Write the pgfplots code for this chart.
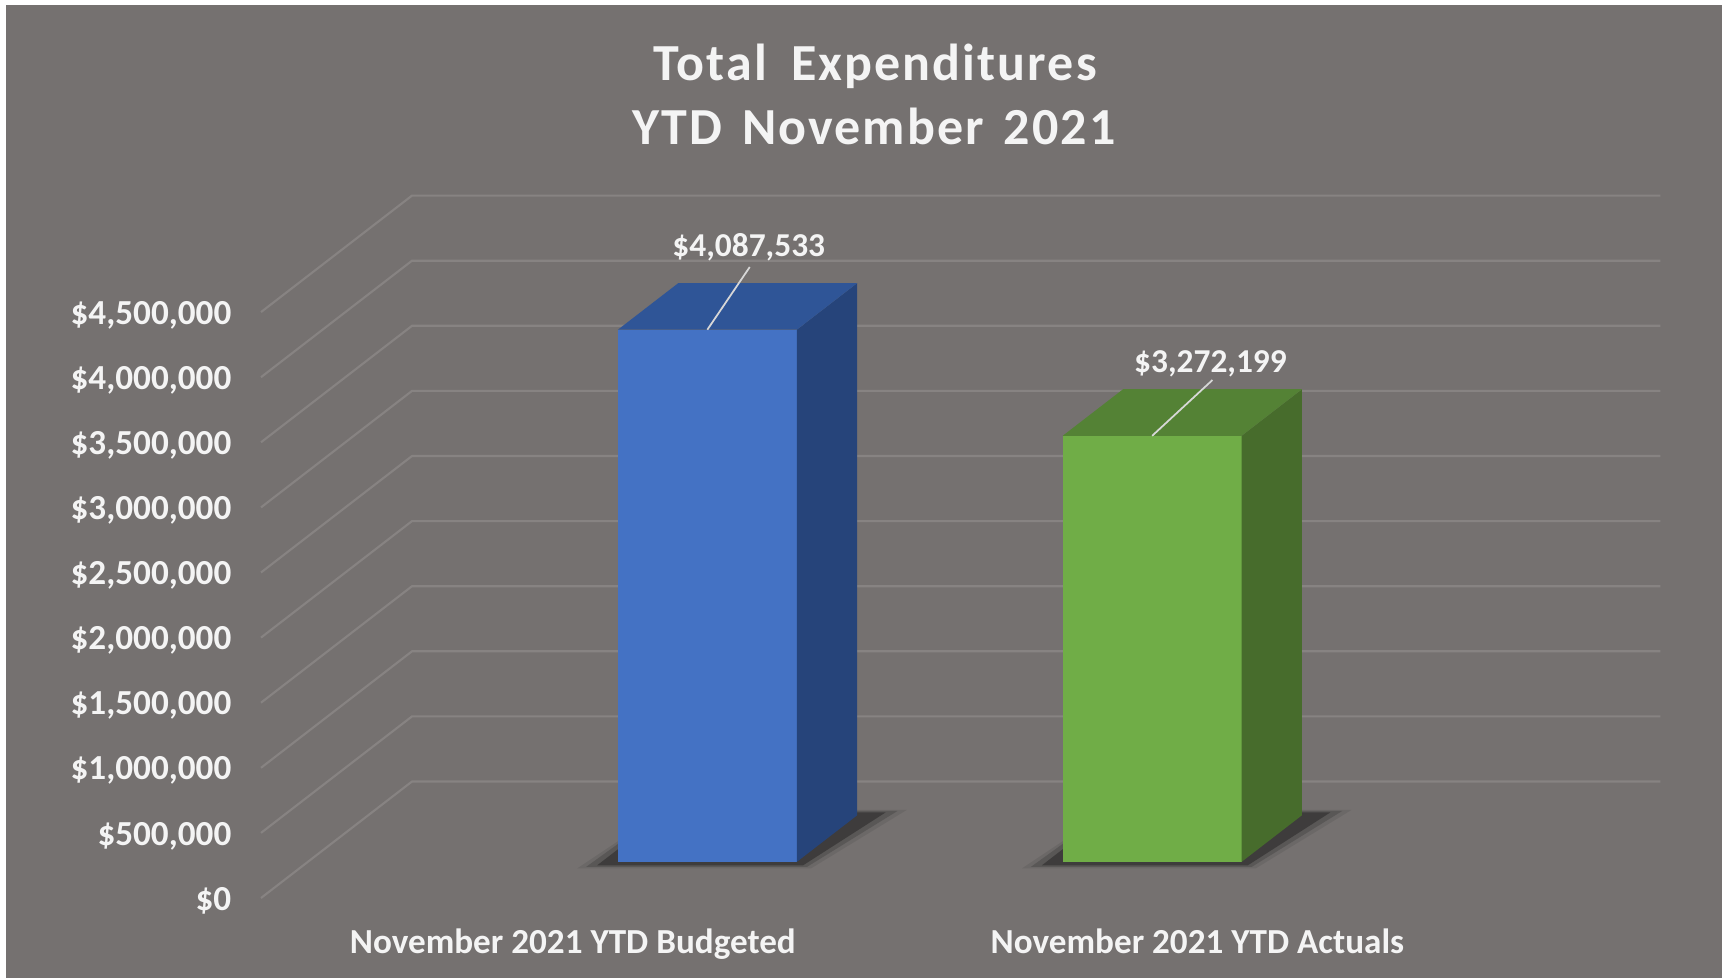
\documentclass[border=0pt]{standalone}
\usepackage{pgfplots}
\pgfplotsset{compat=1.18}
\usepackage{fontspec}
\setmainfont{Carlito}
\newfontfamily\titlefont[LetterSpace=4]{Carlito}

\definecolor{bg}{RGB}{117,113,112}
\definecolor{gridc}{RGB}{135,131,130}
\definecolor{bluefront}{RGB}{68,114,196}
\definecolor{bluetop}{RGB}{47,85,151}
\definecolor{blueside}{RGB}{38,68,122}
\definecolor{greenfront}{RGB}{112,173,71}
\definecolor{greentop}{RGB}{84,130,53}
\definecolor{greenside}{RGB}{71,108,44}
\definecolor{txt}{RGB}{244,244,244}
\definecolor{leader}{RGB}{215,215,215}

\begin{document}
\begin{tikzpicture}
\useasboundingbox (0,0) rectangle (17.22,9.78);
\fill[white] (0,0) rectangle (17.22,9.78);
\fill[bg] (0.06,0) rectangle (17.22,9.73);
\node[anchor=base, text=txt, inner sep=0pt, font=\titlefont\bfseries\fontsize{14.8}{17}\selectfont] at (8.75,8.97) {Total\hspace{0.2em} Expenditures};
\node[anchor=base, text=txt, inner sep=0pt, font=\titlefont\bfseries\fontsize{14.8}{17}\selectfont] at (8.74,8.33) {YTD\hspace{0.12em} November\hspace{0.12em} 2021};
\begin{axis}[
  at={(2.61cm,0.80cm)}, anchor=origin,
  x={(0.01cm,0cm)}, y={(1.51cm,1.165cm)}, z={(0cm,1.302cm)},
  xmin=0, xmax=1249, ymin=0, ymax=1, zmin=0, zmax=4.5,
  axis line style={draw=none},
  major tick length=0pt,
  xtick={312,937},
  xticklabels={November 2021 YTD Budgeted, November 2021 YTD Actuals},
  ytick=\empty,
  ztick={0,0.5,1,1.5,2,2.5,3,3.5,4,4.5},
  zticklabels={{\$0},{\$500,000},{\$1,000,000},{\$1,500,000},{\$2,000,000},{\$2,500,000},{\$3,000,000},{\$3,500,000},{\$4,000,000},{\$4,500,000}},
  ticklabel style={text=txt, font=\bfseries\fontsize{10}{12}\selectfont, inner sep=0pt},
  zticklabel style={anchor=east, xshift=-0.29cm, yshift=-0.03cm},
  xticklabel style={anchor=north, yshift=-0.30cm},
  clip=false,
  every axis plot/.append style={mark=none},
]
% grid on the walls
\pgfplotsinvokeforeach{0,0.5,1,1.5,2,2.5,3,3.5,4,4.5}{
  \addplot3[gridc, line width=0.6pt] coordinates {(0,0,#1) (0,1,#1) (1249,1,#1)};
}
% soft shadows on the floor
\addplot3[fill=black, draw=none, opacity=0.08] coordinates {(278,0.255,0) (512,0.255,0) (532,0.757,0) (290,0.757,0)};
\addplot3[fill=black, draw=none, opacity=0.16] coordinates {(285,0.267,0) (506,0.267,0) (524,0.747,0) (290,0.747,0)};
\addplot3[fill=black, draw=none, opacity=0.30] coordinates {(294,0.28,0) (500,0.28,0) (514,0.735,0) (294,0.735,0)};
\addplot3[fill=black, draw=none, opacity=0.08] coordinates {(723,0.255,0) (957,0.255,0) (977,0.757,0) (735,0.757,0)};
\addplot3[fill=black, draw=none, opacity=0.16] coordinates {(730,0.267,0) (951,0.267,0) (969,0.747,0) (735,0.747,0)};
\addplot3[fill=black, draw=none, opacity=0.30] coordinates {(739,0.28,0) (945,0.28,0) (959,0.735,0) (739,0.735,0)};
% blue bar: November 2021 YTD Budgeted = 4,087,533
\addplot3[fill=bluefront, draw=none] coordinates {(310.3,0.31,0) (489.3,0.31,0) (489.3,0.31,4.087533) (310.3,0.31,4.087533)};
\addplot3[fill=blueside, draw=none] coordinates {(489.3,0.31,0) (489.3,0.71,0) (489.3,0.71,4.087533) (489.3,0.31,4.087533)};
\addplot3[fill=bluetop, draw=none] coordinates {(310.3,0.31,4.087533) (489.3,0.31,4.087533) (489.3,0.71,4.087533) (310.3,0.71,4.087533)};
% green bar: November 2021 YTD Actuals = 3,272,199
\addplot3[fill=greenfront, draw=none] coordinates {(755.3,0.31,0) (934.3,0.31,0) (934.3,0.31,3.272199) (755.3,0.31,3.272199)};
\addplot3[fill=greenside, draw=none] coordinates {(934.3,0.31,0) (934.3,0.71,0) (934.3,0.71,3.272199) (934.3,0.31,3.272199)};
\addplot3[fill=greentop, draw=none] coordinates {(755.3,0.31,3.272199) (934.3,0.31,3.272199) (934.3,0.71,3.272199) (755.3,0.71,3.272199)};
% leader lines
\addplot3[leader, line width=0.5pt] coordinates {(442.2,0.31,4.569) (399.8,0.31,4.087533)};
\addplot3[leader, line width=0.5pt] coordinates {(905.2,0.31,3.701) (844.8,0.31,3.272199)};
% data labels
\node[anchor=base, text=txt, inner sep=0pt, font=\bfseries\fontsize{9.5}{11}\selectfont] at (axis cs:441.2,0.31,4.646) {\$4,087,533};
\node[anchor=base, text=txt, inner sep=0pt, font=\bfseries\fontsize{9.5}{11}\selectfont] at (axis cs:903.2,0.31,3.755) {\$3,272,199};
\end{axis}
\end{tikzpicture}
\end{document}
